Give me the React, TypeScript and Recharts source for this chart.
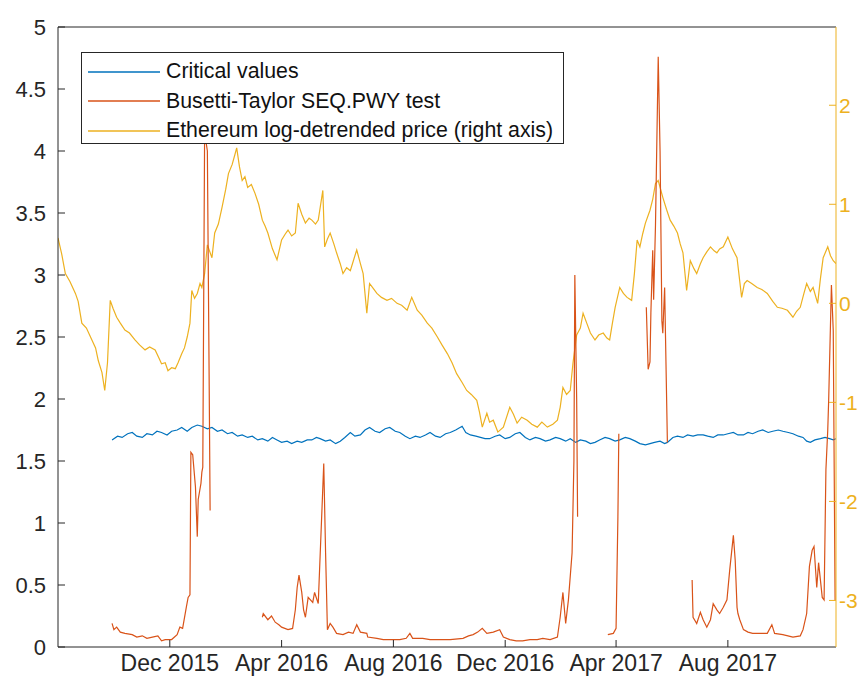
import React from 'react';
import { LineChart, Line, XAxis, YAxis, ReferenceLine } from 'recharts';

// day 0 = 1 Aug 2015
const xTickDays = [122, 244, 366, 488, 609, 731];
const xTickLabels = ['Dec 2015', 'Apr 2016', 'Aug 2016', 'Dec 2016', 'Apr 2017', 'Aug 2017'];
const leftTicks = [0, 0.5, 1, 1.5, 2, 2.5, 3, 3.5, 4, 4.5, 5];
const rightTicks = [-3, -2, -1, 0, 1, 2];

const criticalPoints: [number, number][] = [
  [59, 1.67], [65, 1.7], [70, 1.69], [76, 1.72], [81, 1.73], [86, 1.7], [92, 1.69], [97, 1.72], [103, 1.71],
  [108, 1.74], [113, 1.73], [119, 1.71], [124, 1.74], [130, 1.75], [135, 1.77], [141, 1.74], [146, 1.77],
  [152, 1.79], [157, 1.78], [163, 1.76], [168, 1.77], [174, 1.74], [179, 1.75], [185, 1.72], [190, 1.73],
  [196, 1.7], [201, 1.71], [207, 1.69], [212, 1.7], [218, 1.67], [223, 1.68], [229, 1.66], [234, 1.69],
  [239, 1.67], [244, 1.65], [250, 1.66], [255, 1.64], [261, 1.66], [266, 1.65], [272, 1.67], [277, 1.67],
  [282, 1.69], [286, 1.68], [292, 1.66], [297, 1.67], [303, 1.64], [308, 1.66], [313, 1.69], [319, 1.73],
  [324, 1.7], [330, 1.71], [335, 1.75], [340, 1.77], [346, 1.74], [351, 1.73], [357, 1.76], [362, 1.77],
  [368, 1.74], [373, 1.73], [379, 1.7], [384, 1.68], [390, 1.7], [395, 1.69], [401, 1.71], [406, 1.73],
  [412, 1.7], [417, 1.69], [423, 1.72], [428, 1.73], [434, 1.75], [441, 1.78], [445, 1.73], [450, 1.71],
  [456, 1.7], [461, 1.69], [466, 1.68], [471, 1.68], [477, 1.7], [482, 1.71], [488, 1.68], [493, 1.69],
  [499, 1.72], [504, 1.73], [510, 1.69], [515, 1.67], [521, 1.69], [526, 1.68], [532, 1.66], [537, 1.67],
  [543, 1.69], [548, 1.68], [554, 1.66], [559, 1.68], [565, 1.65], [570, 1.67], [576, 1.66], [581, 1.64],
  [586, 1.65], [591, 1.67], [597, 1.69], [602, 1.68], [608, 1.66], [613, 1.67], [619, 1.69], [624, 1.68],
  [630, 1.66], [635, 1.64], [641, 1.63], [646, 1.64], [651, 1.65], [657, 1.66], [662, 1.64], [665, 1.65],
  [671, 1.69], [676, 1.7], [682, 1.69], [687, 1.71], [693, 1.7], [698, 1.71], [704, 1.71], [709, 1.7],
  [715, 1.69], [720, 1.71], [726, 1.71], [731, 1.72], [737, 1.73], [742, 1.71], [748, 1.71], [753, 1.73],
  [758, 1.72], [764, 1.74], [769, 1.75], [775, 1.73], [780, 1.74], [786, 1.75], [791, 1.74], [797, 1.73],
  [802, 1.72], [808, 1.7], [813, 1.69], [817, 1.66], [821, 1.65], [826, 1.67], [832, 1.68], [837, 1.69],
  [842, 1.68], [846, 1.67], [849, 1.68],
];

// null = gap in the test statistic
const testPoints: [number, number | null][] = [
  [59, 0.19], [61, 0.14], [64, 0.16], [68, 0.12], [73, 0.11], [81, 0.1], [86, 0.08], [92, 0.09], [97, 0.07],
  [103, 0.08], [109, 0.09], [113, 0.05], [117, 0.06], [124, 0.06], [130, 0.1], [133, 0.16], [136, 0.15],
  [140, 0.32], [142, 0.4], [144, 0.42], [145, 1.57], [147, 1.55], [150, 1.29], [152, 0.89], [153, 1.19],
  [156, 1.32], [157, 1.41], [158, 1.45], [160, 4.15], [163, 4.0], [165, 2.1], [166, 1.1],
  [190, null],
  [223, 0.24], [224, 0.27], [229, 0.22], [233, 0.25], [237, 0.2], [241, 0.18], [244, 0.16], [251, 0.14],
  [256, 0.15], [259, 0.3], [261, 0.48], [263, 0.58], [266, 0.44], [268, 0.3], [270, 0.24], [273, 0.4],
  [278, 0.36], [280, 0.44], [284, 0.35], [288, 1.1], [290, 1.48], [292, 0.76], [294, 0.14], [297, 0.19],
  [300, 0.16], [304, 0.11], [311, 0.1], [317, 0.12], [322, 0.11], [326, 0.18], [330, 0.12], [337, 0.11],
  [338, 0.08], [348, 0.07], [355, 0.06], [362, 0.06], [373, 0.06], [380, 0.07], [384, 0.11], [387, 0.07],
  [398, 0.07], [406, 0.06], [414, 0.06], [428, 0.06], [442, 0.07], [448, 0.09], [453, 0.1], [458, 0.12],
  [463, 0.15], [468, 0.11], [475, 0.12], [482, 0.14], [486, 0.08], [493, 0.06], [500, 0.05], [507, 0.05],
  [515, 0.06], [523, 0.06], [529, 0.07], [537, 0.06], [545, 0.08], [548, 0.24], [551, 0.44], [554, 0.19],
  [557, 0.38], [561, 0.76], [563, 1.5], [564, 3.0], [566, 2.0], [567, 1.05],
  [585, null],
  [600, 0.1], [606, 0.11], [609, 0.15], [611, 1.05], [612, 1.72],
  [630, null],
  [642, 2.74], [644, 2.24], [646, 2.3], [647, 2.7], [649, 3.2], [650, 2.8], [652, 3.4], [655, 4.76],
  [657, 4.0], [659, 2.63], [660, 2.53], [662, 2.9], [665, 1.65],
  [680, null],
  [692, 0.54], [693, 0.24], [697, 0.19], [701, 0.28], [704, 0.22], [708, 0.16], [712, 0.22], [715, 0.35],
  [719, 0.3], [722, 0.27], [726, 0.32], [730, 0.38], [733, 0.62], [737, 0.9], [739, 0.7], [741, 0.32],
  [742, 0.27], [744, 0.22], [748, 0.14], [753, 0.12], [758, 0.11], [766, 0.11], [774, 0.11], [779, 0.18],
  [782, 0.11], [791, 0.1], [802, 0.08], [810, 0.09], [813, 0.14], [817, 0.27], [820, 0.65], [823, 0.78],
  [825, 0.81], [828, 0.48], [830, 0.68], [834, 0.4], [836, 0.38], [838, 1.43], [840, 1.75], [841, 1.99],
  [844, 2.92], [846, 2.55], [848, 0.38],
];

// right axis
const ethPoints: [number, number][] = [
  [0, 0.66], [4, 0.5], [8, 0.3], [13, 0.22], [19, 0.1], [22, 0.02], [26, -0.2], [31, -0.25], [37, -0.37],
  [41, -0.45], [44, -0.58], [48, -0.7], [51, -0.88], [54, -0.6], [57, 0.03], [60, -0.05], [64, -0.14],
  [68, -0.2], [73, -0.27], [78, -0.3], [84, -0.37], [89, -0.42], [95, -0.47], [100, -0.44], [106, -0.47],
  [110, -0.55], [113, -0.61], [117, -0.6], [120, -0.68], [124, -0.65], [128, -0.66], [131, -0.6],
  [135, -0.51], [138, -0.45], [141, -0.34], [144, -0.2], [146, 0.13], [149, 0.05], [152, 0.1], [155, 0.2],
  [157, 0.16], [160, 0.3], [163, 0.59], [168, 0.46], [171, 0.71], [175, 0.8], [179, 0.97], [183, 1.15],
  [186, 1.31], [190, 1.4], [193, 1.5], [195, 1.57], [198, 1.38], [201, 1.24], [204, 1.28], [207, 1.17],
  [211, 1.2], [215, 1.11], [219, 1.0], [223, 0.84], [226, 0.78], [229, 0.71], [234, 0.55], [239, 0.44],
  [244, 0.64], [248, 0.7], [251, 0.74], [255, 0.68], [259, 0.71], [262, 1.01], [266, 0.9], [270, 0.81],
  [274, 0.86], [277, 0.84], [281, 0.8], [284, 0.84], [289, 1.14], [291, 0.57], [294, 0.65], [297, 0.71],
  [301, 0.6], [304, 0.51], [308, 0.4], [311, 0.3], [315, 0.36], [319, 0.33], [323, 0.45], [326, 0.54],
  [330, 0.4], [333, 0.3], [337, -0.1], [340, 0.2], [344, 0.15], [348, 0.1], [353, 0.06], [359, 0.03],
  [364, 0.05], [370, 0.0], [375, -0.02], [381, -0.07], [386, 0.06], [392, -0.07], [397, -0.12], [403, -0.2],
  [408, -0.25], [414, -0.34], [419, -0.42], [425, -0.51], [430, -0.6], [435, -0.71], [441, -0.8],
  [446, -0.88], [451, -0.92], [457, -0.98], [460, -1.1], [463, -1.25], [468, -1.11], [471, -1.2],
  [475, -1.18], [480, -1.3], [486, -1.25], [493, -1.05], [497, -1.12], [501, -1.21], [506, -1.15],
  [512, -1.18], [517, -1.22], [523, -1.25], [528, -1.2], [534, -1.25], [540, -1.22], [545, -1.18],
  [548, -1.05], [551, -0.85], [555, -0.92], [559, -0.88], [562, -0.6], [566, -0.32], [570, -0.25],
  [573, -0.1], [577, -0.2], [581, -0.3], [586, -0.37], [590, -0.32], [595, -0.3], [599, -0.35],
  [602, -0.37], [605, -0.2], [608, -0.04], [613, 0.16], [617, 0.1], [621, 0.06], [626, 0.03], [629, 0.3],
  [632, 0.64], [635, 0.57], [638, 0.7], [641, 0.81], [646, 0.94], [649, 1.05], [652, 1.21], [655, 1.24],
  [660, 1.07], [664, 0.95], [668, 0.84], [672, 0.78], [676, 0.71], [679, 0.6], [682, 0.51], [686, 0.13],
  [690, 0.43], [694, 0.35], [697, 0.3], [701, 0.4], [704, 0.46], [708, 0.52], [712, 0.57], [716, 0.53],
  [719, 0.51], [722, 0.55], [726, 0.57], [731, 0.67], [736, 0.55], [741, 0.46], [746, 0.06], [749, 0.2],
  [752, 0.23], [757, 0.2], [763, 0.16], [768, 0.14], [774, 0.1], [780, 0.02], [785, -0.04], [790, -0.05],
  [796, -0.07], [802, -0.14], [806, -0.08], [810, -0.04], [814, 0.1], [817, 0.2], [821, 0.12], [824, 0.16],
  [829, 0.0], [832, 0.25], [835, 0.46], [840, 0.57], [843, 0.48], [846, 0.43], [849, 0.4],
];

const BLUE = '#0072BD';
const RED = '#D95319';
const YELLOW = '#EDB120';
const INK = '#262626';

const toRows = (pts: [number, number | null][]) => pts.map(([day, v]) => ({ day, v }));

const legendItems = [
  { label: 'Critical values', color: BLUE },
  { label: 'Busetti-Taylor SEQ.PWY test', color: RED },
  { label: 'Ethereum log-detrended price (right axis)', color: YELLOW },
];

export default function App() {
  const fmtX = (d: number) => xTickLabels[xTickDays.indexOf(d)] ?? '';
  return (
    <div
      style={{
        position: 'fixed',
        left: 0,
        top: 0,
        width: 859,
        height: 682,
        overflow: 'hidden',
        background: '#fff',
        fontFamily: '"Liberation Sans", Arial, sans-serif',
      }}
    >
      <LineChart width={880} height={682} margin={{ top: 27, right: 0, bottom: 0, left: 0 }}>
        <XAxis
          type="number"
          dataKey="day"
          domain={[0, 849]}
          ticks={xTickDays}
          tickFormatter={fmtX}
          allowDataOverflow
          height={35}
          tickSize={-7}
          tickMargin={15}
          tick={{ fontSize: 23, fill: INK }}
          axisLine={{ stroke: INK }}
          tickLine={{ stroke: INK }}
        />
        <YAxis
          yAxisId="left"
          type="number"
          domain={[0, 5]}
          ticks={leftTicks}
          allowDataOverflow
          width={58}
          tickSize={-7}
          tickMargin={19}
          tick={{ fontSize: 22, fill: INK }}
          axisLine={{ stroke: INK }}
          tickLine={{ stroke: INK }}
        />
        <YAxis
          yAxisId="right"
          orientation="right"
          type="number"
          domain={[-3.47, 2.79]}
          ticks={rightTicks}
          allowDataOverflow
          width={44}
          tickSize={-7}
          tickMargin={10}
          tick={{ fontSize: 21, fill: YELLOW }}
          axisLine={{ stroke: YELLOW }}
          tickLine={{ stroke: YELLOW }}
        />
        <ReferenceLine yAxisId="left" y={5} stroke={INK} />
        <Line
          yAxisId="right"
          data={toRows(ethPoints)}
          dataKey="v"
          stroke={YELLOW}
          strokeWidth={1.2}
          dot={false}
          isAnimationActive={false}
        />
        <Line
          yAxisId="left"
          data={toRows(criticalPoints)}
          dataKey="v"
          stroke={BLUE}
          strokeWidth={1.2}
          dot={false}
          isAnimationActive={false}
        />
        <Line
          yAxisId="left"
          data={toRows(testPoints)}
          dataKey="v"
          stroke={RED}
          strokeWidth={1.2}
          dot={false}
          connectNulls={false}
          isAnimationActive={false}
        />
      </LineChart>
      <div
        style={{
          position: 'absolute',
          left: 81,
          top: 52,
          width: 483,
          height: 92,
          boxSizing: 'border-box',
          border: `1px solid ${INK}`,
          background: '#fff',
          paddingTop: 4,
          fontSize: 21.3,
          color: '#111',
        }}
      >
        {legendItems.map((it) => (
          <div key={it.label} style={{ display: 'flex', alignItems: 'center', height: 29.5 }}>
            <svg width={84} height={4} style={{ flex: 'none' }}>
              <line x1={6} y1={2} x2={78} y2={2} stroke={it.color} strokeWidth={1.3} />
            </svg>
            <span style={{ whiteSpace: 'nowrap' }}>{it.label}</span>
          </div>
        ))}
      </div>
    </div>
  );
}
